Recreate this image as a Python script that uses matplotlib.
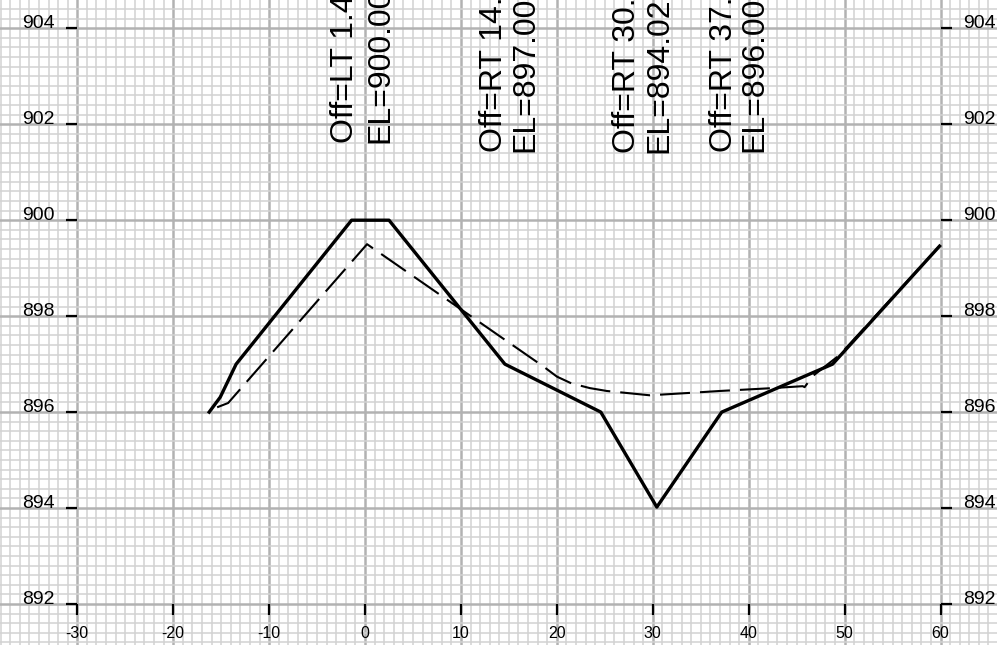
import numpy as np
import matplotlib.pyplot as plt
from matplotlib.ticker import FixedLocator, MultipleLocator

plt.rcParams['font.family'] = ['Liberation Sans', 'DejaVu Sans']
plt.rcParams['axes.unicode_minus'] = False

# Proposed section (solid) - offset / elevation
design_off = [-16.25, -15.1, -13.44, -1.4, 2.5, 14.58, 24.58, 30.42, 37.19, 48.75, 59.9]
design_el = [896.0, 896.31, 897.0, 900.0, 900.0, 897.0, 896.0, 894.02, 896.0, 897.0, 899.46]

# Existing ground (dashed)
ground_off = [-15.42, -14.27, 0.21, 18.6, 20.0, 21.5, 23.44, 25.21, 29.69, 33.85,
              36.98, 42.5, 45.63, 45.83, 46.67, 49.48, 59.9]
ground_el = [896.10, 896.19, 899.50, 896.95, 896.74, 896.60, 896.50, 896.44, 896.35, 896.40,
             896.44, 896.50, 896.54, 896.52, 896.75, 897.19, 899.46]

# Point labels
label_off = ['Off=LT 1.40', 'Off=RT 14.58', 'Off=RT 30.42', 'Off=RT 37.19']
label_el = ['EL=900.00', 'EL=897.00', 'EL=894.02', 'EL=896.00']
label_x_off = [-1.25, 14.27, 28.12, 38.23]
label_x_el = [2.40, 17.50, 31.56, 41.46]
label_y = [901.60, 901.42, 901.40, 901.42]

x_ticks = list(range(-30, 61, 10))
y_ticks = [892, 894, 896, 898, 900, 902, 904]

fig = plt.figure(figsize=(9.97, 6.45), dpi=100)

# bottom axes: grid paper only
ax = fig.add_axes([0, 0, 1, 1])
ax.set_xlim(-38.06, 65.89)
ax.set_ylim(891.145, 904.59)
ax.xaxis.set_major_locator(FixedLocator(x_ticks))
ax.yaxis.set_major_locator(FixedLocator(y_ticks))
ax.xaxis.set_minor_locator(MultipleLocator(1))
ax.yaxis.set_minor_locator(MultipleLocator(0.2))
ax.grid(which='minor', color='#d2d2d2', linewidth=1.1)
ax.grid(which='major', color='#b2b2b2', linewidth=1.8)
ax.tick_params(which='both', length=0, labelbottom=False, labelleft=False)
for s in ax.spines.values():
    s.set_visible(False)

# top axes: ticks, labels and section lines
ax2 = fig.add_axes([0, 0, 1, 1], sharex=ax, sharey=ax)
ax2.patch.set_visible(False)
for s in ['left', 'right', 'bottom', 'top']:
    ax2.spines[s].set_visible(False)
ax2.spines['left'].set_position(('data', -30))
ax2.spines['right'].set_position(('data', 60))
ax2.spines['bottom'].set_position(('data', 892))
ax2.tick_params(which='minor', length=0)
ax2.tick_params(axis='x', which='major', direction='out', length=8, width=1.6,
                labelsize=11.5, pad=8, bottom=True, top=False, labelbottom=True)
ax2.tick_params(axis='y', which='major', direction='out', length=8, width=1.6,
                labelsize=14, pad=8, left=True, right=True,
                labelleft=True, labelright=True)
for lbl in ax2.get_yticklabels():
    lbl.set_va('baseline')

# section lines
ax2.plot(design_off, design_el, color='black', linewidth=2.4)
ax2.plot(ground_off, ground_el, color='black', linewidth=1.5, linestyle=(0, (14.4, 4.8)))

# labels
for i in range(len(label_off)):
    ax2.text(label_x_off[i], label_y[i], label_off[i], rotation=90, rotation_mode='anchor',
             ha='left', va='baseline', fontsize=23, clip_on=False)
    ax2.text(label_x_el[i], label_y[i], label_el[i], rotation=90, rotation_mode='anchor',
             ha='left', va='baseline', fontsize=23, clip_on=False)

fig.savefig('out.png', dpi=100)
